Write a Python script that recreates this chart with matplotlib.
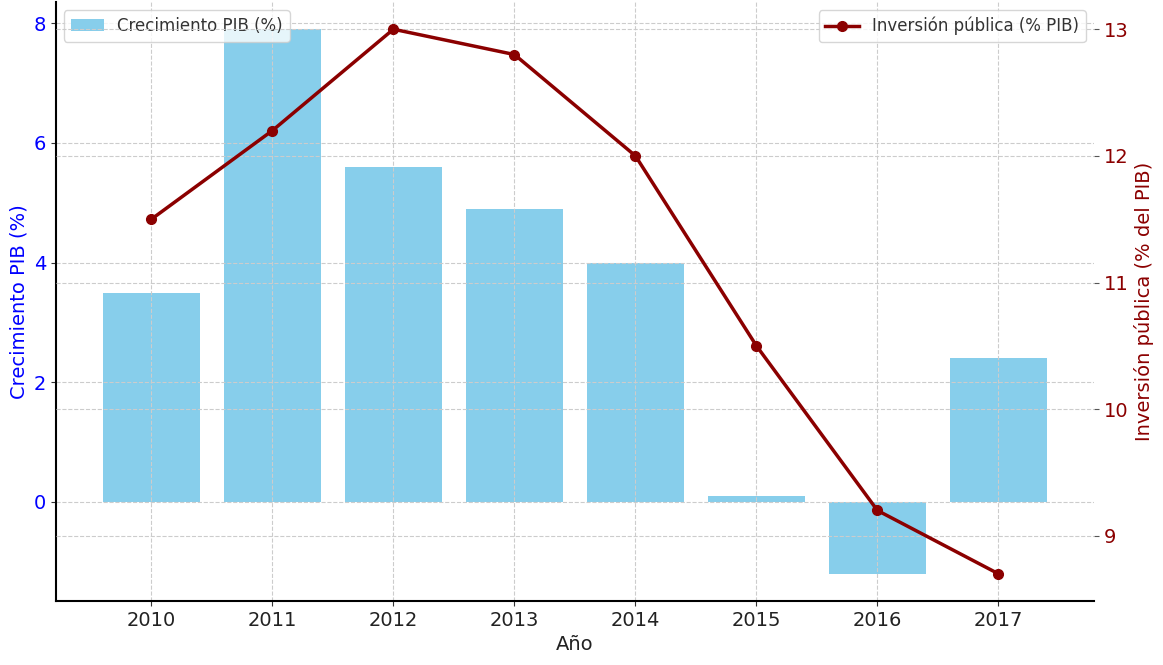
import matplotlib
matplotlib.use("Agg")
import matplotlib.pyplot as plt

years = [2010, 2011, 2012, 2013, 2014, 2015, 2016, 2017]
gdp_growth = [3.5, 7.9, 5.6, 4.9, 4.0, 0.1, -1.2, 2.4]
public_investment = [11.5, 12.2, 13.0, 12.8, 12.0, 10.5, 9.2, 8.7]

fig, ax1 = plt.subplots(figsize=(11.63, 6.65), dpi=100)

ax1.bar(years, gdp_growth, color="skyblue", width=0.8, label="Crecimiento PIB (%)")
ax1.set_xlabel("Año", fontsize=14, color="#222222")
ax1.set_ylabel("Crecimiento PIB (%)", color="blue", fontsize=14)
ax1.tick_params(axis="y", labelcolor="blue", labelsize=14, color="#333333")
ax1.tick_params(axis="x", labelsize=14, labelcolor="#222222", color="#333333")
ax1.grid(True, linestyle="--", color="#cccccc")
leg1 = ax1.legend(loc="upper left", fontsize=12)
for t in leg1.get_texts():
    t.set_color("#333333")

ax2 = ax1.twinx()
ax2.plot(years, public_investment, color="darkred", marker="o", linewidth=2.5,
         markersize=7, label="Inversión pública (% PIB)")
ax2.set_ylabel("Inversión pública (% del PIB)", color="darkred", fontsize=14)
ax2.tick_params(axis="y", labelcolor="darkred", labelsize=14, color="#555555")
ax2.grid(True, linestyle="--", color="#cccccc")
leg2 = ax2.legend(loc="upper right", fontsize=12)
for t in leg2.get_texts():
    t.set_color("#333333")

for ax in (ax1, ax2):
    ax.spines["top"].set_visible(False)
    ax.spines["right"].set_visible(False)
ax1.spines["left"].set_linewidth(1.5)
ax1.spines["bottom"].set_linewidth(1.5)
ax2.spines["left"].set_visible(False)
ax2.spines["bottom"].set_visible(False)

fig.subplots_adjust(left=0.048, right=0.9407, top=0.997, bottom=0.0962)
fig.savefig("out.png")
